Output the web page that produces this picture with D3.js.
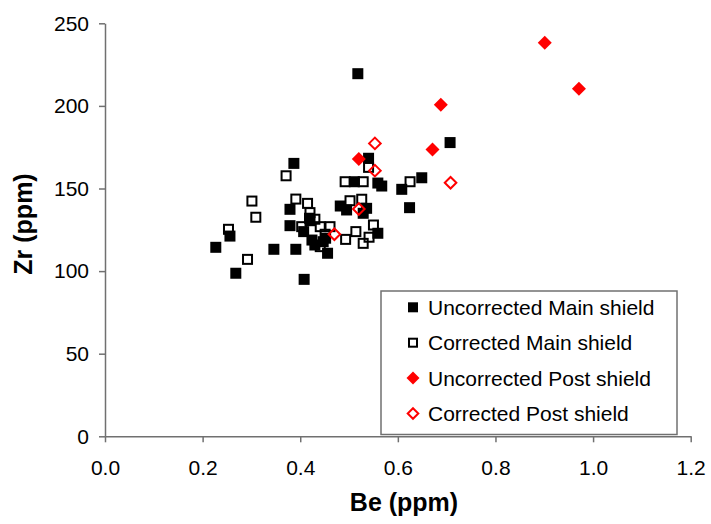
<!DOCTYPE html>
<html>
<head>
<meta charset="utf-8">
<script src="https://cdn.jsdelivr.net/npm/d3@7/dist/d3.min.js"></script>
<style>
  html, body { margin: 0; padding: 0; background: #fff; }
  svg { display: block; font-family: Arial, "Liberation Sans", sans-serif; }
</style>
</head>
<body>
<svg id="chart" width="711" height="524"></svg>
<script>
// Be vs Zr measurements (ppm)
const uncorrectedMain = [
  [0.518, 219.5], [0.540, 168.3], [0.511, 154.1], [0.559, 153.3], [0.567, 151.5],
  [0.608, 149.5], [0.649, 156.5], [0.707, 177.8], [0.624, 138.4], [0.482, 139.4],
  [0.495, 137.0], [0.536, 138.0], [0.529, 135.0], [0.559, 122.9], [0.387, 165.2],
  [0.256, 121.2], [0.227, 114.4], [0.346, 113.2], [0.391, 113.2], [0.268, 98.7],
  [0.408, 95.0], [0.379, 137.4], [0.379, 127.5], [0.419, 132.0], [0.420, 130.5],
  [0.407, 123.9], [0.424, 118.8], [0.447, 117.8], [0.430, 115.8], [0.456, 110.8],
  [0.452, 119.9]
];
const correctedMain = [
  [0.540, 162.8], [0.492, 154.1], [0.529, 154.1], [0.625, 154.1], [0.502, 142.6],
  [0.526, 143.5], [0.550, 127.9], [0.541, 120.5], [0.529, 116.8], [0.514, 123.9],
  [0.493, 119.2], [0.461, 126.9], [0.371, 157.7], [0.301, 142.4], [0.309, 132.6],
  [0.253, 125.3], [0.292, 107.1], [0.391, 143.6], [0.415, 141.0], [0.420, 135.4],
  [0.430, 131.4], [0.403, 126.9], [0.441, 126.9], [0.441, 114.8], [0.451, 122.3]
];
const uncorrectedPost = [
  [0.901, 238.3], [0.971, 210.4], [0.688, 200.7], [0.671, 173.6], [0.520, 167.9]
];
const correctedPost = [
  [0.553, 177.3], [0.553, 160.8], [0.520, 137.6], [0.470, 122.3], [0.708, 153.5]
];

const xTicks = [0, 0.2, 0.4, 0.6, 0.8, 1.0, 1.2];
const yTicks = [0, 50, 100, 150, 200, 250];
const seriesNames = [
  "Uncorrected Main shield",
  "Corrected Main shield",
  "Uncorrected Post shield",
  "Corrected Post shield"
];

const svg = d3.select("#chart");
const plot = { left: 105, top: 23.3, right: 690.7, bottom: 436.3 };

const x = d3.scaleLinear().domain([0, 1.2]).range([plot.left, plot.right]);
const y = d3.scaleLinear().domain([0, 250]).range([plot.bottom, plot.top]);

const axisColor = "#707070";

// Axes
const gx = svg.append("g")
  .attr("transform", `translate(0,${plot.bottom})`)
  .call(d3.axisBottom(x).tickValues(xTicks).tickFormat(d3.format(".1f"))
    .tickSize(6).tickSizeOuter(0).tickPadding(18));
const gy = svg.append("g")
  .attr("transform", `translate(${plot.left},0)`)
  .call(d3.axisLeft(y).tickValues(yTicks).tickFormat(d3.format("d"))
    .tickSize(6).tickSizeOuter(0).tickPadding(10));

[gx, gy].forEach(g => {
  g.select(".domain").attr("stroke", axisColor).attr("stroke-width", 1.5);
  g.selectAll(".tick line").attr("stroke", axisColor).attr("stroke-width", 1.5);
  g.selectAll(".tick text").attr("fill", "#000").attr("font-size", 21)
    .attr("font-family", "Arial, 'Liberation Sans', sans-serif");
});

// Axis titles
svg.append("text")
  .attr("x", 404).attr("y", 511)
  .attr("text-anchor", "middle")
  .attr("font-size", 25).attr("font-weight", "bold")
  .text("Be (ppm)");
svg.append("text")
  .attr("transform", "translate(32,224) rotate(-90)")
  .attr("text-anchor", "middle")
  .attr("font-size", 25).attr("font-weight", "bold")
  .text("Zr (ppm)");

// Marker shapes
const squareFilled = (g, s) => g.append("rect")
  .attr("x", -s / 2).attr("y", -s / 2).attr("width", s).attr("height", s)
  .attr("fill", "#000");
const squareOpen = (g, s) => g.append("rect")
  .attr("x", -s / 2 + 1).attr("y", -s / 2 + 1).attr("width", s - 2).attr("height", s - 2)
  .attr("fill", "none").attr("stroke", "#000").attr("stroke-width", 2);
const diamondPath = r => `M0,${-r}L${r},0L0,${r}L${-r},0Z`;
const diamondFilled = (g, s) => g.append("path")
  .attr("d", diamondPath(s / 2)).attr("fill", "#ff0000");
const diamondOpen = (g, s) => g.append("path")
  .attr("d", diamondPath(s / 2 - 1.2)).attr("fill", "none")
  .attr("stroke", "#ff0000").attr("stroke-width", 2);

const series = [
  { data: uncorrectedMain, draw: squareFilled, size: 11 },
  { data: correctedMain, draw: squareOpen, size: 11 },
  { data: uncorrectedPost, draw: diamondFilled, size: 14 },
  { data: correctedPost, draw: diamondOpen, size: 14 }
];

series.forEach(s => {
  const g = svg.append("g");
  g.selectAll("g").data(s.data).join("g")
    .attr("transform", d => `translate(${x(d[0])},${y(d[1])})`)
    .each(function () { s.draw(d3.select(this), s.size); });
});

// Legend
const legend = svg.append("g");
legend.append("rect")
  .attr("x", 381).attr("y", 291).attr("width", 296).attr("height", 143.5)
  .attr("fill", "#fff").attr("stroke", axisColor).attr("stroke-width", 1.5);
const legendSizes = [10, 10, 13, 13];
series.forEach((s, i) => {
  const cy = 307.3 + i * 35.4;
  const item = legend.append("g").attr("transform", `translate(0,${cy})`);
  s.draw(item.append("g").attr("transform", "translate(413,0)"), legendSizes[i]);
  item.append("text")
    .attr("x", 428).attr("y", 0).attr("dy", "0.36em")
    .attr("font-size", 21).attr("fill", "#000")
    .text(seriesNames[i]);
});
</script>
</body>
</html>
